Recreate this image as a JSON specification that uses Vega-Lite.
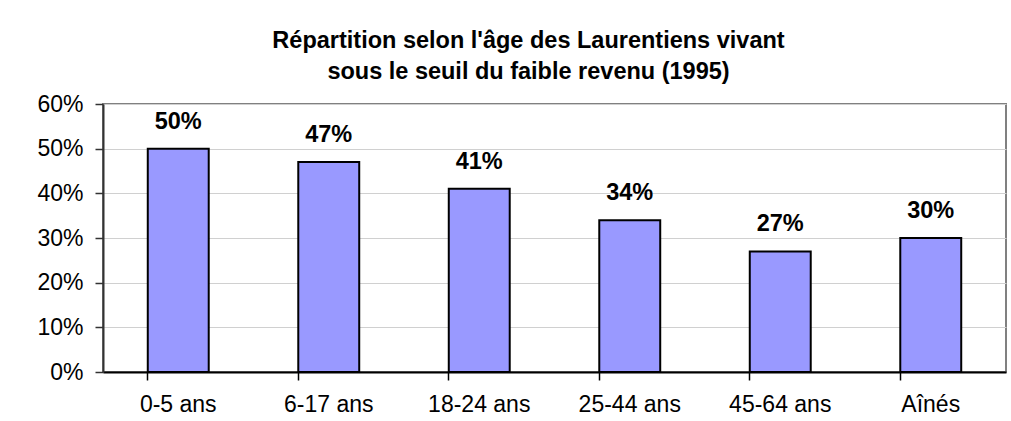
{
  "$schema": "https://vega.github.io/schema/vega-lite/v6.json",
  "width": 903,
  "height": 268,
  "autosize": {"type": "none"},
  "padding": {"left": 103, "top": 104, "right": 5, "bottom": 49},
  "background": "white",
  "title": {
    "text": ["Répartition selon l'âge des Laurentiens vivant", "sous le seuil du faible revenu (1995)"],
    "anchor": "middle",
    "frame": "group",
    "font": "Liberation Sans",
    "fontSize": 23.5,
    "fontWeight": "bold",
    "color": "black",
    "lineHeight": 31,
    "dx": -26,
    "offset": 10
  },
  "data": {
    "values": [
      {"groupe": "0-5 ans", "pct": 0.50},
      {"groupe": "6-17 ans", "pct": 0.47},
      {"groupe": "18-24 ans", "pct": 0.41},
      {"groupe": "25-44 ans", "pct": 0.34},
      {"groupe": "45-64 ans", "pct": 0.27},
      {"groupe": "Aînés", "pct": 0.30}
    ]
  },
  "encoding": {
    "x": {
      "field": "groupe",
      "type": "nominal",
      "sort": null,
      "scale": {"paddingInner": 0.595, "paddingOuter": 0.2975},
      "axis": {
        "title": null,
        "labelAngle": 0,
        "labelFont": "Liberation Sans",
        "labelFontSize": 23,
        "labelColor": "black",
        "labelPadding": 13,
        "domainColor": "black",
        "domainWidth": 2,
        "tickColor": "black",
        "tickWidth": 1.5,
        "tickSize": 8,
        "bandPosition": 0
      }
    },
    "y": {
      "field": "pct",
      "type": "quantitative",
      "scale": {"domain": [0, 0.6], "nice": false},
      "axis": {
        "title": null,
        "format": ".0%",
        "values": [0, 0.1, 0.2, 0.3, 0.4, 0.5, 0.6],
        "labelFont": "Liberation Sans",
        "labelFontSize": 23,
        "labelColor": "black",
        "labelPadding": 12,
        "domainColor": "#333333",
        "domainWidth": 2,
        "tickColor": "#333333",
        "tickWidth": 1.5,
        "tickSize": 8,
        "grid": true,
        "gridColor": "#d0d0d0",
        "gridWidth": 1
      }
    }
  },
  "layer": [
    {
      "mark": {"type": "bar", "fill": "#9999FF", "stroke": "black", "strokeWidth": 2}
    },
    {
      "mark": {"type": "text", "font": "Liberation Sans", "fontSize": 23.5, "fontWeight": "bold", "color": "black", "baseline": "alphabetic", "dy": -20},
      "encoding": {
        "text": {"field": "pct", "type": "quantitative", "format": ".0%"}
      }
    }
  ],
  "config": {
    "view": {"stroke": "#808080", "strokeWidth": 2}
  }
}
